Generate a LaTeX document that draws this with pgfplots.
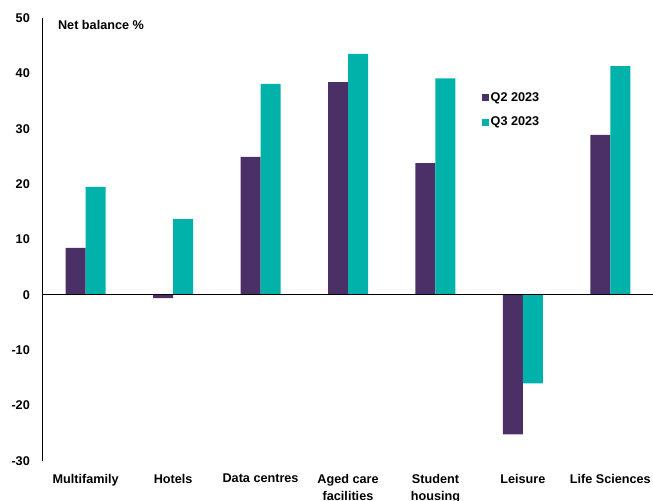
\documentclass[border=0pt]{standalone}
\usepackage{fontspec}
\setmainfont{Liberation Sans}
\usepackage{pgfplots}
\pgfplotsset{compat=1.18}
\definecolor{cpurple}{HTML}{4B3068}
\definecolor{cteal}{HTML}{00B2A9}
\begin{document}
\begin{tikzpicture}
\begin{axis}[
  scale only axis, width=612bp, height=443bp,
  ymin=-30, ymax=50, xmin=-0.5, xmax=6.5,
  ytick={-30,-20,...,50}, yticklabels={-30,-20,-10,0,10,20,30,40,50},
  xtick={0,...,6},
  xticklabels={Multifamily, Hotels, Data centres, {Aged care\\facilities}, {Student\\housing}, Leisure, Life Sciences},
  axis lines*=left,
  x axis line style={draw=none},
  y axis line style={black, line width=0.8bp},
  major tick length=0pt,
  ybar=0pt, bar width=20bp,
  tick label style={font=\fontsize{12.7}{17}\selectfont\bfseries},
  yticklabel style={inner sep=0pt, xshift=-12bp},
  xticklabel style={inner sep=0pt, yshift=-13bp, align=center},
  legend style={at={(rel axis cs:0.719,0.835)}, anchor=north west, draw=none, fill=none,
    font=\fontsize{12.7}{15}\selectfont\bfseries, row sep=11bp, inner sep=0pt,
    nodes={inner sep=1.5bp}},
  legend cell align=left,
  legend image code/.code={\fill[#1] (0bp,-3.5bp) rectangle (7bp,3.5bp);},
  clip=false,
]
\addplot[fill=cpurple, draw=none] coordinates {(0,8.5) (1,-0.6) (2,24.9) (3,38.4) (4,23.8) (5,-25.2) (6,28.9)};
\addplot[fill=cteal, draw=none] coordinates {(0,19.5) (1,13.7) (2,38.1) (3,43.5) (4,39.1) (5,-16.0) (6,41.3)};
\legend{Q2 2023, Q3 2023}
\draw[black, line width=0.8bp] (axis cs:-0.5,0) -- (axis cs:6.5,0);
\node[anchor=west, inner sep=0pt, font=\fontsize{12.7}{15}\selectfont\bfseries] at (rel axis cs:0.026,0.984) {Net balance \%};
\end{axis}
\pgfresetboundingbox
\path[use as bounding box] (-42bp,-40bp) rectangle (611bp,461bp);
\end{tikzpicture}
\end{document}
